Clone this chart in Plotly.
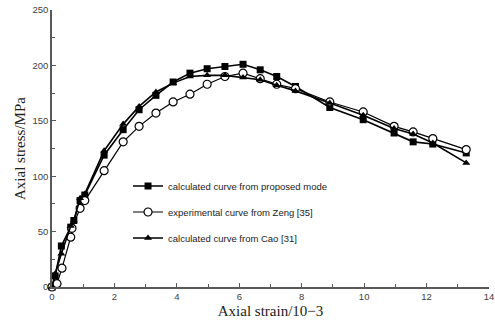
import plotly.graph_objects as go

# Data
x_prop = [0, 0.1, 0.3, 0.6, 0.7, 0.9, 1.05, 1.67, 2.28, 2.79, 3.33, 3.88, 4.42, 4.97, 5.54, 6.12, 6.67, 7.2, 7.8, 8.9, 9.97, 10.96, 11.57, 12.2, 13.27]
y_prop = [0, 10, 37, 54, 60, 78, 83, 119, 142, 160, 173, 185, 193, 197, 199, 201, 196, 190, 181, 162, 151, 139, 131, 129, 121]

x_exp = [0, 0.16, 0.32, 0.6, 0.64, 0.9, 1.05, 1.67, 2.28, 2.79, 3.33, 3.88, 4.42, 4.97, 5.54, 6.12, 6.67, 7.2, 7.8, 8.9, 9.97, 10.96, 11.57, 12.2, 13.27]
y_exp = [0, 3, 17, 45, 53, 71, 78, 105, 131, 145, 157, 167, 174, 183, 190, 193, 188, 183, 179, 167, 158, 145, 140, 134, 124]

x_cao = [0, 0.1, 0.3, 0.6, 0.7, 0.9, 1.05, 1.67, 2.28, 2.79, 3.33, 3.88, 4.42, 4.97, 5.54, 6.12, 6.67, 7.2, 7.8, 8.9, 9.97, 10.96, 11.57, 12.2, 13.27]
y_cao = [0, 12, 30, 55, 60, 80, 84, 123, 147, 163, 176, 184, 190, 191, 191, 189, 187, 182, 177, 166, 155, 143, 138, 130, 112]

names = ["calculated curve from proposed mode",
         "experimental curve from Zeng [35]",
         "calculated curve from Cao [31]"]

x_ticks = [0, 2, 4, 6, 8, 10, 12, 14]
y_ticks = [0, 50, 100, 150, 200, 250]

fig = go.Figure()
fig.add_trace(go.Scatter(
    x=x_prop, y=y_prop, mode="lines+markers", name=names[0], legendgroup="a",
    line=dict(color="black", width=1.6),
    marker=dict(symbol="square", size=7, color="black"), cliponaxis=False))
fig.add_trace(go.Scatter(
    x=x_exp, y=y_exp, mode="lines+markers", name=names[1], legendgroup="b",
    line=dict(color="black", width=1.2),
    marker=dict(symbol="circle", size=8, color="white", line=dict(color="black", width=1.2)),
    cliponaxis=False))
fig.add_trace(go.Scatter(
    x=x_cao, y=y_cao, mode="lines+markers", name=names[2], legendgroup="c",
    line=dict(color="black", width=1.6),
    marker=dict(symbol="triangle-up", size=7, color="black"), cliponaxis=False))

tickfont = dict(family="Liberation Sans, Arial, sans-serif", size=9.5, color="#404040")
titlefont = dict(family="Liberation Serif, Times New Roman, serif", size=15, color="#222222")

fig.update_layout(
    width=495, height=331,
    margin=dict(l=52, r=6, t=10, b=44, autoexpand=False),
    paper_bgcolor="white", plot_bgcolor="white",
    showlegend=True,
    legend=dict(x=0.174, y=0.417, xanchor="left", yanchor="top",
                bgcolor="rgba(0,0,0,0)", borderwidth=0,
                font=dict(family="Liberation Sans, Arial, sans-serif", size=9.5, color="#222222"),
                itemwidth=30, tracegroupgap=7),
    xaxis=dict(range=[0, 14], tickvals=x_ticks, ticktext=[str(v) for v in x_ticks],
               automargin=False,
               showgrid=False, zeroline=False, showline=True, linecolor="#595959", linewidth=1.5,
               ticks="inside", ticklen=4, tickcolor="#595959", tickwidth=1.2,
               minor=dict(tickvals=[1, 3, 5, 7, 9, 11, 13], ticks="inside", ticklen=3,
                          tickcolor="#595959", tickwidth=1),
               tickfont=tickfont,
               title=dict(text="Axial strain/10−3", font=titlefont, standoff=4)),
    yaxis=dict(range=[0, 250], tickvals=y_ticks, ticktext=[str(v) for v in y_ticks],
               automargin=False,
               showgrid=False, zeroline=False, showline=True, linecolor="#595959", linewidth=1.5,
               ticks="inside", ticklen=4, tickcolor="#595959", tickwidth=1.2,
               minor=dict(tickvals=[25, 75, 125, 175, 225], ticks="inside", ticklen=3,
                          tickcolor="#595959", tickwidth=1),
               tickfont=tickfont,
               title=dict(text="Axial stress/MPa", font=titlefont, standoff=3)),
)

# Remove the browser's default 8px body margin so the figure fills the window exactly.
fig.write_html("out.html", config={"displayModeBar": False},
               post_script="document.body.style.margin='0px';")
